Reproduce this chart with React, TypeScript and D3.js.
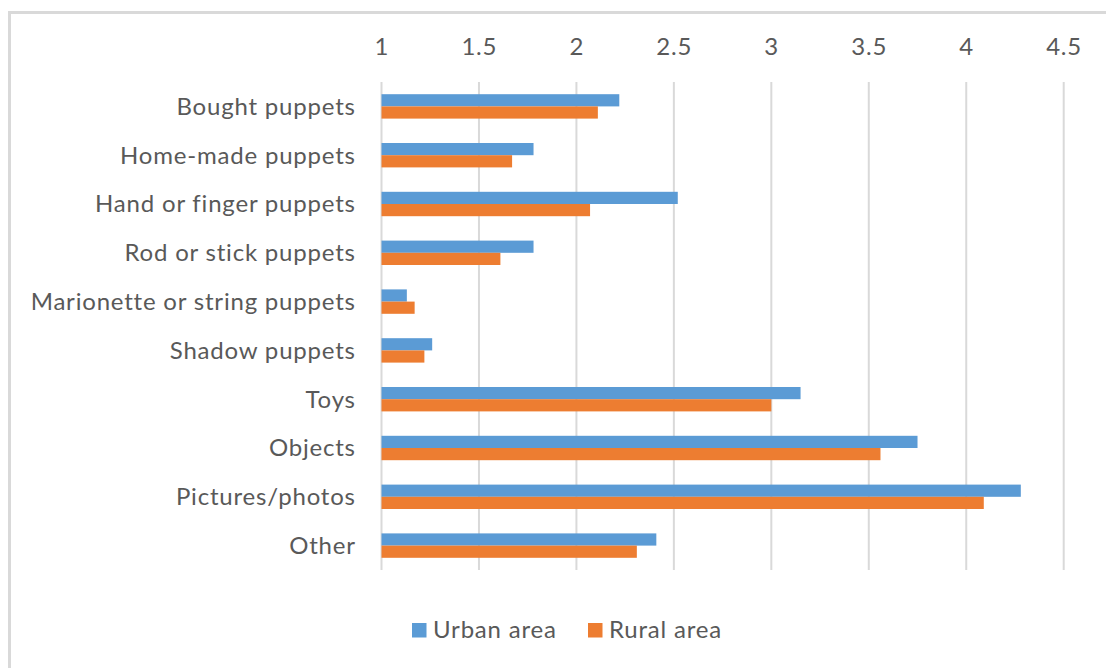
import React from "react";
import * as d3 from "d3";

const categories = [
  "Bought puppets",
  "Home-made puppets",
  "Hand or finger puppets",
  "Rod or stick puppets",
  "Marionette or string puppets",
  "Shadow puppets",
  "Toys",
  "Objects",
  "Pictures/photos",
  "Other",
];
const urbanValues = [2.22, 1.78, 2.52, 1.78, 1.13, 1.26, 3.15, 3.75, 4.28, 2.41];
const ruralValues = [2.11, 1.67, 2.07, 1.61, 1.17, 1.22, 3.0, 3.56, 4.09, 2.31];
const xTicks = [1, 1.5, 2, 2.5, 3, 3.5, 4, 4.5];
const seriesNames = ["Urban area", "Rural area"];
const seriesColors = ["#5b9bd5", "#ed7d31"];

const W = 1106;
const H = 668;
const plot = { left: 381.5, right: 1063.7, top: 82, bottom: 570 };
const FONT = "Lato, 'Open Sans', sans-serif";
const TEXT = "#595959";
const GRID = "#d9d9d9";
const FS = 24;
const LS = 0.8;

export default function App() {
  const x = d3.scaleLinear().domain([1, 4.5]).range([plot.left, plot.right]);
  const y = d3.scaleBand<string>().domain(categories).range([plot.top, plot.bottom]).padding(0);
  const bw = y.bandwidth();
  const groupH = bw * 0.5;
  const inner = d3
    .scaleBand<number>()
    .domain([0, 1])
    .range([-groupH / 2, groupH / 2])
    .padding(0);
  const series = [urbanValues, ruralValues];

  return (
    <svg
      width={W}
      height={H}
      style={{ position: "absolute", left: 0, top: 0, background: "#fff" }}
      fontFamily={FONT}
      letterSpacing={LS}
    >
      <rect x={0} y={0} width={W} height={H} fill="#fff" />
      <rect x={9.5} y={12.5} width={1300} height={900} fill="none" stroke={GRID} strokeWidth={3} />
      {xTicks.map((t) => (
        <g key={t}>
          <line x1={x(t)} x2={x(t)} y1={plot.top} y2={plot.bottom} stroke={GRID} strokeWidth={2} />
          <text x={x(t) + LS / 2} y={55} textAnchor="middle" fontSize={FS} fill={TEXT}>
            {String(t)}
          </text>
        </g>
      ))}
      {categories.map((c, i) => (
        <g key={c}>
          {series.map((vals, s) => (
            <rect
              key={s}
              x={x(1)}
              y={(y(c) as number) + bw / 2 + (inner(s) as number)}
              width={x(vals[i]) - x(1)}
              height={inner.bandwidth()}
              fill={seriesColors[s]}
            />
          ))}
          <text
            x={355 + LS}
            y={(y(c) as number) + bw / 2}
            dy="0.35em"
            textAnchor="end"
            fontSize={FS}
            fill={TEXT}
          >
            {c}
          </text>
        </g>
      ))}
      <g>
        <rect x={412} y={623} width={14.5} height={14.5} fill={seriesColors[0]} />
        <text x={433} y={637.5} fontSize={FS} fill={TEXT}>
          {seriesNames[0]}
        </text>
        <rect x={588} y={623} width={14.5} height={14.5} fill={seriesColors[1]} />
        <text x={609} y={637.5} fontSize={FS} fill={TEXT}>
          {seriesNames[1]}
        </text>
      </g>
    </svg>
  );
}
